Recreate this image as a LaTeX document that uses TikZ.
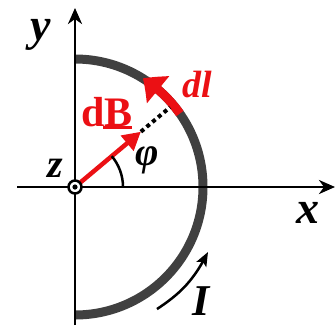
\documentclass[tikz,border=0pt]{standalone}
\usepackage{fontspec}
\setmainfont{Liberation Serif}
\usetikzlibrary{arrows.meta,bending,calc}
\definecolor{wire}{RGB}{64,64,64}
\definecolor{vred}{RGB}{235,16,20}
\tikzset{
  axis/.style={line width=2.8pt,-{Stealth[length=16pt,width=14pt,inset=5pt]}},
  lab/.style={font=\fontsize{46}{46}\selectfont\bfseries\itshape, inner sep=2pt},
  redlab/.style={text=vred, inner sep=2pt},
}
\begin{document}
\begin{tikzpicture}[x=1pt,y=1pt]
\useasboundingbox (0,0) rectangle (336,-325);
\coordinate (O) at (75,-187);
\coordinate (xs) at (17,-187);
\coordinate (xe) at (335,-187);
\coordinate (ys) at (75,-325);
\coordinate (ye) at (75,-8);
% wire
\draw[wire, line width=9pt] (75,-59) arc[start angle=90, end angle=-90, radius=128];
% axes
\draw[axis] (xs) -- (xe);
\draw[axis] (ys) -- (ye);
% red dl
\draw[vred, line width=9pt, -{Triangle[length=19pt,width=34pt,bend]}]
  ($(O)+(35:128)$) arc[start angle=35, end angle=58, radius=128];
% dotted
\coordinate (Bt) at ($(O)+(40:86)$);
\coordinate (Ct) at ($(O)+(40:124)$);
\draw[line width=4pt, dash pattern=on 4pt off 3.5pt] (Bt) -- (Ct);
% dB arrow
\draw[vred, line width=4.5pt, -{Triangle[length=18pt,width=19pt]}] (O) -- (Bt);
% angle
\draw[line width=2.5pt] ($(O)+(48,0)$) arc[start angle=0, end angle=40, radius=48];
% origin symbol
\node[circle, draw, line width=2.5pt, fill=white, minimum size=13pt, inner sep=0pt] (zc) at (O) {};
\fill (zc.center) circle (2.6pt);
% labels
\node[lab] (ylab) at (41,-35) {y\/};
\node[lab] (xlab) at (308,-213) {x\/};
\node[lab, font=\fontsize{40}{40}\selectfont\bfseries\itshape] (zlab) at (55,-168) {z\/};
\node[lab, font=\fontsize{40}{40}\selectfont\bfseries\itshape] (phil) at (147.5,-160) {φ\/};
\node[lab, redlab, font=\fontsize{38}{38}\selectfont\bfseries\itshape] (dl) at (197,-84) {dl\/};
\node[redlab, font=\fontsize{42}{42}\selectfont\bfseries] (dB) at (107,-112) {dB};
\draw[vred, line width=3pt] (103,-127) -- (132,-127);
\node[lab, font=\fontsize{44}{44}\selectfont\bfseries\itshape, inner sep=0pt, anchor=base] (Ilab) at (202,-315) {I\/};
% current arrow
\coordinate (Is) at (157,-309);
\coordinate (Ie) at (208,-252);
\draw[line width=2.5pt, -{Stealth[length=14pt,width=11pt,inset=3pt]}] (Is) to[bend right=15] (Ie);
\end{tikzpicture}
\end{document}
